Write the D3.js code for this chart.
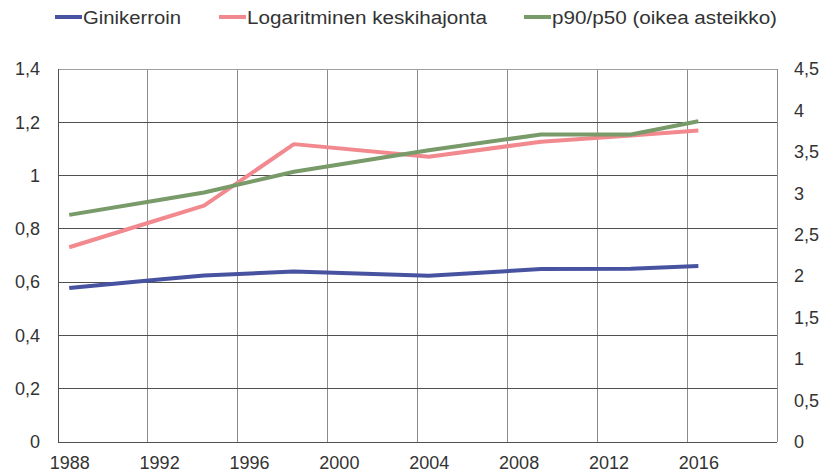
<!DOCTYPE html>
<html>
<head>
<meta charset="utf-8">
<script src="https://cdn.jsdelivr.net/npm/d3@7"></script>
<style>
  body { margin: 0; background: #fff; }
  svg text { font-family: "Liberation Sans", Arial, sans-serif; fill: #333; }
</style>
</head>
<body>
<svg id="chart" width="825" height="475"></svg>
<script>
// data
var years  = [1988, 1992, 1994, 1998, 2004, 2009, 2013, 2016];
var gini   = [0.578, 0.610, 0.625, 0.640, 0.624, 0.649, 0.650, 0.661];
var logsd  = [0.731, 0.835, 0.887, 1.118, 1.071, 1.127, 1.150, 1.169];
var p9050  = [2.74, 2.92, 3.01, 3.26, 3.52, 3.71, 3.71, 3.87];

var xTicks = [1988, 1992, 1996, 2000, 2004, 2008, 2012, 2016];
var leftTicks = [0, 0.2, 0.4, 0.6, 0.8, 1, 1.2, 1.4];
var leftLabels = ["0", "0,2", "0,4", "0,6", "0,8", "1", "1,2", "1,4"];
var rightTicks = [0, 0.5, 1, 1.5, 2, 2.5, 3, 3.5, 4, 4.5];
var rightLabels = ["0", "0,5", "1", "1,5", "2", "2,5", "3", "3,5", "4", "4,5"];
var seriesNames = ["Ginikerroin", "Logaritminen keskihajonta", "p90/p50 (oikea asteikko)"];
var seriesColors = ["#4753a0", "#f2898f", "#799a69"];

var svg = d3.select("svg#chart");
var margin = {top: 69, right: 48, bottom: 33, left: 58};
var width = +svg.attr("width") - margin.left - margin.right;
var height = +svg.attr("height") - margin.top - margin.bottom;

// category axis: one band per year, 1988..2019
var x = d3.scaleLinear().domain([1987.5, 2019.5]).range([0, width]);
var yL = d3.scaleLinear().domain([0, 1.4]).range([height, 0]);
var yR = d3.scaleLinear().domain([0, 4.5]).range([height, 0]);

var g = svg.append("g").attr("transform", `translate(${margin.left},${margin.top})`);

// vertical grid (between categories)
var vgrid = d3.range(1991.5, 2020, 4);
g.append("g").selectAll("line")
  .data(vgrid)
  .enter().append("line")
  .attr("x1", d => x(d)).attr("x2", d => x(d))
  .attr("y1", 0).attr("y2", height)
  .attr("stroke", "#8c8c8c").attr("stroke-width", 1)
  .attr("shape-rendering", "crispEdges");

// horizontal grid
g.append("g").selectAll("line")
  .data(leftTicks.slice(1))
  .enter().append("line")
  .attr("x1", 0).attr("x2", width)
  .attr("y1", d => yL(d)).attr("y2", d => yL(d))
  .attr("stroke", d => d === 1.4 ? "#a0a0a0" : "#505050").attr("stroke-width", 1)
  .attr("shape-rendering", "crispEdges");

// axis lines
g.append("line").attr("x1", 0).attr("x2", 0).attr("y1", 0).attr("y2", height)
  .attr("stroke", "#505050").attr("shape-rendering", "crispEdges");
g.append("line").attr("x1", 0).attr("x2", width).attr("y1", height).attr("y2", height)
  .attr("stroke", "#505050").attr("shape-rendering", "crispEdges");

//yaxis left
g.append("g")
  .call(d3.axisLeft(yL).tickValues(leftTicks).tickFormat((d, i) => leftLabels[i]).tickSize(0).tickPadding(18))
  .call(a => a.select(".domain").remove())
  .selectAll("text").attr("font-size", "18px").attr("font-family", null);

//yaxis right
g.append("g")
  .attr("transform", `translate(${width},0)`)
  .call(d3.axisRight(yR).tickValues(rightTicks).tickFormat((d, i) => rightLabels[i]).tickSize(0).tickPadding(17))
  .call(a => a.select(".domain").remove())
  .selectAll("text").attr("font-size", "18px").attr("font-family", null);

//xaxis
g.append("g")
  .attr("transform", `translate(0,${height})`)
  .call(d3.axisBottom(x).tickValues(xTicks).tickFormat(d3.format("d")).tickSize(0).tickPadding(14))
  .call(a => a.select(".domain").remove())
  .selectAll("text").attr("font-size", "18px").attr("font-family", null);

// lines
var lineL = d3.line().x((d, i) => x(years[i])).y(d => yL(d));
var lineR = d3.line().x((d, i) => x(years[i])).y(d => yR(d));

g.append("path").datum(gini)
  .attr("d", lineL).attr("fill", "none")
  .attr("stroke", seriesColors[0]).attr("stroke-width", 4).attr("stroke-linejoin", "round");
g.append("path").datum(logsd)
  .attr("d", lineL).attr("fill", "none")
  .attr("stroke", seriesColors[1]).attr("stroke-width", 4).attr("stroke-linejoin", "round");
g.append("path").datum(p9050)
  .attr("d", lineR).attr("fill", "none")
  .attr("stroke", seriesColors[2]).attr("stroke-width", 4).attr("stroke-linejoin", "round");

// legend
var legX = [55, 219, 524];
var legW = [98, 240, 225];
var leg = svg.append("g").attr("class", "legend");
seriesNames.forEach(function(name, i){
  leg.append("line")
    .attr("x1", legX[i]).attr("x2", legX[i] + 27)
    .attr("y1", 17).attr("y2", 17)
    .attr("stroke", seriesColors[i]).attr("stroke-width", 4);
  leg.append("text")
    .attr("x", legX[i] + 28).attr("y", 24)
    .attr("font-size", "18px")
    .attr("textLength", legW[i])
    .attr("lengthAdjust", "spacingAndGlyphs")
    .text(name);
});
</script>
</body>
</html>
